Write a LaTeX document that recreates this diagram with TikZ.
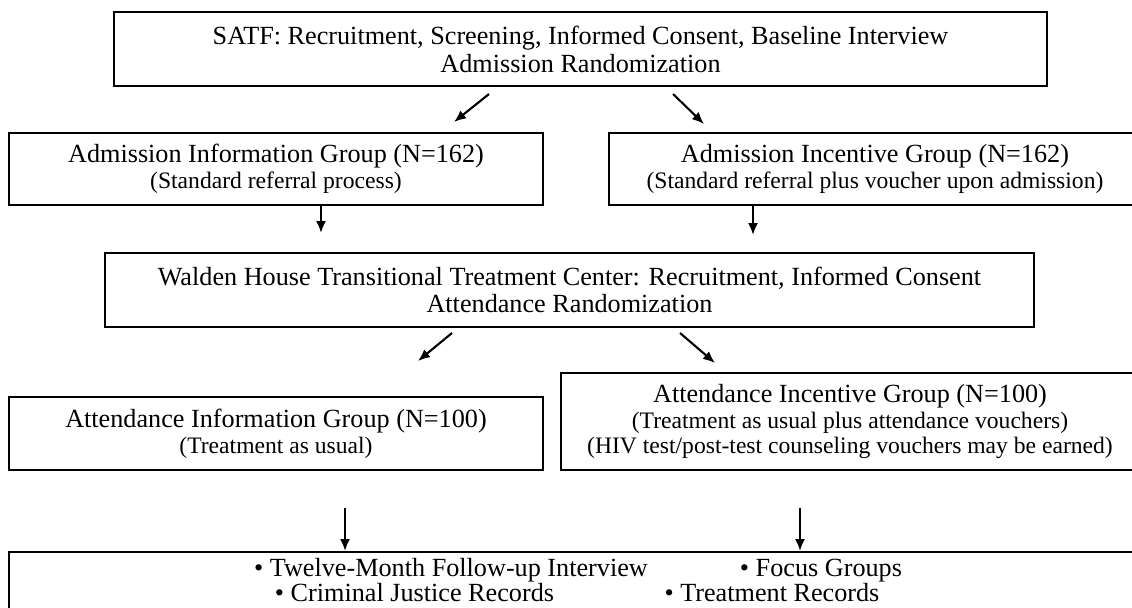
\documentclass[tikz,border=0pt]{standalone}
\usepackage{fontspec}
\setmainfont{Liberation Serif}
\usetikzlibrary{arrows.meta}
\newcommand\mainsz{\fontsize{13.1}{14}\selectfont}
\newcommand\subsz{\fontsize{11.8}{13}\selectfont}
\tikzset{
  box/.style={draw, line width=0.95pt, inner sep=0pt, align=center, font=\mainsz},
  txt/.style={inner sep=0pt, anchor=base, font=\mainsz},
  arr/.style={line width=1.05pt, -{Latex[length=6pt,width=5pt]}},
}
\begin{document}
\begin{tikzpicture}[x=0.5pt,y=-0.5pt]
\fill[white] (0,0) rectangle (1132,607);
\useasboundingbox (0,0) rectangle (1132,607);
% boxes
\node[box, minimum width=466.5pt, minimum height=37pt] (top) at (580.5,49)
  {SATF: Recruitment, Screening, Informed Consent, Baseline Interview\\Admission Randomization};
\node[box, minimum width=267pt, minimum height=36pt] (aig) at (276,169)
  {Admission Information Group (N=162)\\[-1pt]{\subsz (Standard referral process)}};
\node[box, minimum width=266pt, minimum height=36pt] (ainc) at (875,169)
  {Admission Incentive Group (N=162)\\[-1pt]{\subsz (Standard referral plus voucher upon admission)}};
\node[box, minimum width=464.5pt, minimum height=37pt] (walden) at (569.5,290)
  {Walden House Transitional Treatment Center: Recruitment, Informed Consent\\[-0.5pt]Attendance Randomization};
\node[box, minimum width=267pt, minimum height=36.5pt] (attinfo) at (276,433.5)
  {Attendance Information Group (N=100)\\[-1pt]{\subsz (Treatment as usual)}};
\node[box, minimum width=289pt, minimum height=48.5pt] (attinc) at (850,421.5)
  {Attendance Incentive Group (N=100)\\[-1pt]{\subsz (Treatment as usual plus attendance vouchers)}\\[-1.5pt]{\subsz (HIV test/post-test counseling vouchers may be earned)}};
\node[box, minimum width=575.5pt, minimum height=54pt] (final) at (584.5,606) {};
% bottom box texts
\node[txt] (t1) at (451,576) {\textbullet\ Twelve-Month Follow-up Interview};
\node[txt] (t2) at (821,576) {\textbullet\ Focus Groups};
\node[txt] (t3) at (414.5,601) {\textbullet\ Criminal Justice Records};
\node[txt] (t4) at (772,601) {\textbullet\ Treatment Records};
% arrow end points
\coordinate (a1s) at (489,94);  \coordinate (a1e) at (454,122);
\coordinate (a2s) at (673,94);  \coordinate (a2e) at (704,124);
\coordinate (d1e) at (321,233);
\coordinate (d2e) at (753,235);
\coordinate (a3s) at (452,333); \coordinate (a3e) at (418,361);
\coordinate (a4s) at (680,333); \coordinate (a4e) at (715,363);
\coordinate (d3s) at (345,508);
\coordinate (d4s) at (800,508);
% connectors
\draw[arr] (a1s) -- (a1e);
\draw[arr] (a2s) -- (a2e);
\draw[arr] (aig.south -| d1e) -- (d1e);
\draw[arr] (ainc.south -| d2e) -- (d2e);
\draw[arr] (a3s) -- (a3e);
\draw[arr] (a4s) -- (a4e);
\draw[arr] (d3s) -- (d3s |- final.north);
\draw[arr] (d4s) -- (d4s |- final.north);
\end{tikzpicture}
\end{document}
